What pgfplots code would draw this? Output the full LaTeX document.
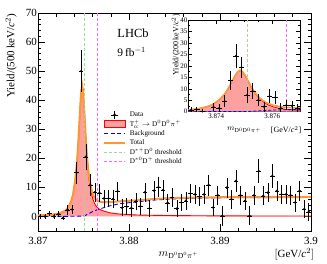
\documentclass[border=0pt]{standalone}
\usepackage{fontspec}
\setmainfont{Liberation Serif}
\usepackage{pgfplots}
\usepackage{pgfplotstable}
\pgfplotsset{compat=1.18}
\definecolor{sigfill}{RGB}{255,160,160}
\definecolor{totorange}{RGB}{255,150,50}
\definecolor{thrgreen}{RGB}{150,220,150}
\definecolor{thrmag}{RGB}{255,100,255}

\pgfplotstableread{
x y e
3.87025 0 0.7
3.87075 0 0.7
3.87125 1.0 1.0
3.87175 0 0.7
3.87225 0.9 1.0
3.87275 -0.5 0.8
3.87325 2.3 1.7
3.87375 2.4 1.6
3.87425 15.1 3.8
3.87475 50 7.3
3.87525 20.5 4.6
3.87575 10.8 3.9
3.87625 8.3 3.2
3.87675 8.1 3.2
3.87725 6.2 3.0
3.87775 6.2 3.0
3.87825 6.0 3.0
3.87875 8.7 3.3
3.87925 3.0 3.0
3.87975 3.4 3.0
3.88025 2.9 3.0
3.88075 5.1 3.0
3.88125 3.5 3.0
3.88175 8.3 3.3
3.88225 2.8 3.0
3.88275 8.9 3.4
3.88325 10.1 3.5
3.88375 9.1 3.4
3.88425 4.7 3.0
3.88475 6.5 3.2
3.88525 2.7 3.0
3.88575 4.8 3.0
3.88625 5.4 3.1
3.88675 7.9 3.3
3.88725 7.6 3.3
3.88775 6.8 3.2
3.88825 7.6 3.3
3.88875 10.8 3.6
3.88925 3.1 3.0
3.88975 7.3 3.3
3.89025 0.2 3.4
3.89075 9.9 3.5
3.89125 5.9 3.2
3.89175 12.2 3.7
3.89225 7.3 3.3
3.89275 5.4 3.1
3.89325 0.2 3.3
3.89375 7.3 3.3
3.89425 15.6 4.2
3.89475 7.1 3.3
3.89525 8.2 3.3
3.89575 13.9 4.0
3.89625 8.8 3.4
3.89675 7.6 3.3
3.89725 7.6 3.3
3.89775 7.3 3.3
3.89825 4.8 3.1
3.89875 8.8 3.4
3.89925 2.5 3.0
3.89975 1.6 3.0
}\maindata

\pgfplotstableread{
x S B T
3.87000 0.35 0.00 0.35
3.87140 0.55 0.02 0.57
3.87235 1.00 0.03 1.03
3.87305 2.00 0.04 2.04
3.87335 3.20 0.05 3.25
3.87365 5.20 0.06 5.26
3.87385 7.50 0.07 7.57
3.87405 11.5 0.08 11.58
3.87415 14.2 0.08 14.28
3.87425 17.4 0.09 17.49
3.87435 21.4 0.09 21.49
3.87445 26.4 0.10 26.50
3.87455 32.2 0.10 32.30
3.87465 38.2 0.11 38.31
3.87475 43.0 0.12 43.12
3.87485 45.0 0.13 45.13
3.87495 43.1 0.15 43.25
3.87505 38.3 0.18 38.48
3.87515 32.4 0.30 32.70
3.87525 26.6 0.45 27.05
3.87535 21.6 0.63 22.23
3.87545 17.6 0.80 18.40
3.87555 14.4 0.98 15.38
3.87565 11.9 1.12 13.02
3.87585 8.2 1.42 9.62
3.87605 5.8 1.72 7.52
3.87625 4.2 1.98 6.18
3.87651 3.1 2.30 5.40
3.87670 2.6 2.50 5.10
3.87710 2.0 2.90 4.90
3.87790 1.25 3.65 4.90
3.87890 0.85 4.35 5.20
3.88090 0.50 5.05 5.55
3.88300 0.38 5.70 6.08
3.88500 0.30 6.05 6.35
3.88750 0.25 6.30 6.55
3.89000 0.20 6.42 6.62
3.89500 0.17 6.50 6.67
3.90000 0.15 6.55 6.70
}\maincurves

\pgfplotstableread{
x y e
3.8731 0.8 1.2
3.8733 0.9 1.2
3.8735 0.1 1.0
3.8739 2.1 1.8
3.8741 1.6 1.7
3.8743 4.6 2.5
3.8745 13.7 4.2
3.8747 24.3 5.4
3.8749 19.4 4.6
3.8751 7.2 3.5
3.8753 9.0 3.5
3.8755 5.1 2.8
3.8757 2.2 2.2
3.8759 6.8 3.0
3.8761 6.2 3.0
3.8763 1.7 2.0
3.8765 2.9 2.2
3.8767 2.6 2.2
3.8769 1.4 1.8
}\insetdata

\pgfplotstableread{
x S B T
3.87300 0.77 0.016 0.79
3.87305 0.80 0.016 0.82
3.87335 1.28 0.02 1.30
3.87365 2.08 0.024 2.10
3.87385 3.00 0.028 3.03
3.87405 4.60 0.032 4.63
3.87415 5.68 0.032 5.71
3.87425 6.96 0.036 7.00
3.87435 8.56 0.036 8.60
3.87445 10.56 0.04 10.60
3.87455 12.88 0.04 12.92
3.87465 15.28 0.044 15.32
3.87475 17.20 0.048 17.25
3.87485 18.00 0.052 18.05
3.87495 17.24 0.06 17.30
3.87505 15.32 0.072 15.39
3.87515 12.96 0.12 13.08
3.87525 10.64 0.18 10.82
3.87535 8.64 0.25 8.89
3.87545 7.04 0.32 7.36
3.87555 5.60 0.39 5.99
3.87565 4.50 0.45 4.95
3.87585 3.00 0.57 3.57
3.87605 2.05 0.69 2.74
3.87625 1.45 0.79 2.24
3.87651 1.00 0.88 1.88
3.87670 0.80 0.93 1.73
3.87700 0.60 1.00 1.60
}\insetcurves

\begin{document}
\begin{tikzpicture}
\useasboundingbox (-38bp,-33bp) rectangle (289bp,231bp);
\begin{axis}[
  at={(0bp,0bp)}, anchor=south west,
  scale only axis, width=273bp, height=218bp,
  xmin=3.87, xmax=3.9, ymin=-5, ymax=70,
  xtick={3.87,3.88,3.89,3.9}, xticklabels={3.87,3.88,3.89,3.9},
  minor x tick num=4,
  ytick={0,10,...,70}, minor y tick num=4,
  tick align=inside, tick pos=both,
  major tick length=7bp, minor tick length=3.5bp,
  axis line style={line width=0.8pt},
  every tick/.style={black, line width=0.6pt},
  tick label style={font=\fontsize{11}{12}\selectfont},
  /pgf/number format/assume math mode=true,
  yticklabel style={inner sep=1bp},
  xticklabel style={yshift=-3bp},
  clip mode=individual,
  legend style={draw=none, fill=none, at={(axis description cs:0.238,0.555)}, anchor=north west,
    font=\fontsize{7.2}{8}\selectfont, inner sep=0pt, row sep=0pt,
    nodes={inner sep=0.6pt, text height=6pt, text depth=2.2pt},
    /tikz/every odd column/.append style={column sep=3bp}},
  legend cell align=left,
]
\addlegendimage{legend image code/.code={
  \draw[black, line width=0.5pt] (10.5bp,-4bp) -- (10.5bp,4bp);
  \draw[black, line width=0.5pt] (7bp,0bp) -- (14bp,0bp);
  \fill[black] (10.5bp,0bp) circle (1.1bp);}}
\addlegendentry{Data}
\addlegendimage{legend image code/.code={\draw[draw=red, fill=sigfill, line width=0.8pt] (0bp,-3.5bp) rectangle (21bp,3.5bp);}}
\addlegendentry{$\mathrm{T}_{\mathrm{cc}}^{+}\rightarrow\mathrm{D}^0\mathrm{D}^0\pi^+$}
\addlegendimage{legend image code/.code={\draw[blue, line width=1pt, dash pattern=on 4bp off 2.5bp] (0bp,0bp) -- (21bp,0bp);}}
\addlegendentry{Background}
\addlegendimage{legend image code/.code={\draw[totorange, line width=2pt] (0bp,0bp) -- (21bp,0bp);}}
\addlegendentry{Total}
\addlegendimage{legend image code/.code={\draw[thrgreen, line width=0.7pt, dash pattern=on 3bp off 2bp] (0bp,0bp) -- (21bp,0bp);}}
\addlegendentry{$\mathrm{D}^{*+}\mathrm{D}^0$ threshold}
\addlegendimage{legend image code/.code={\draw[thrmag, line width=0.9pt, dash pattern=on 3bp off 2bp] (0bp,0bp) -- (21bp,0bp);}}
\addlegendentry{$\mathrm{D}^{*0}\mathrm{D}^+$ threshold}

\addplot[fill=sigfill, draw=none, forget plot] table[x=x, y=S]{\maincurves} \closedcycle;
\addplot[red, line width=0.9pt, forget plot] table[x=x, y=S]{\maincurves};
\addplot[blue, line width=0.9pt, dash pattern=on 4bp off 2.5bp, forget plot] table[x=x, y=B]{\maincurves};
\addplot[totorange, line width=2pt, forget plot] table[x=x, y=T]{\maincurves};
\addplot[thrgreen, line width=0.7pt, dash pattern=on 3bp off 2bp, forget plot] coordinates {(3.8751,-5) (3.8751,70)};
\addplot[thrmag, line width=1.1pt, dash pattern=on 3bp off 2bp, forget plot] coordinates {(3.87651,-5) (3.87651,70)};
\addplot[black, only marks, mark=*, mark size=1pt, forget plot,
  error bars/.cd, y dir=both, y explicit, x dir=both, x fixed=0.00025,
  error bar style={line width=0.5pt, black}, error mark=none]
  table[x=x, y=y, y error=e]{\maindata};

\node[anchor=west, font=\fontsize{12.5}{13}\selectfont] at (axis description cs:0.278,0.905) {LHCb};
\node[anchor=west, font=\fontsize{11.5}{12}\selectfont] at (axis description cs:0.278,0.82) {9\,fb$^{-1}$};
\node[rotate=90, anchor=south east, font=\fontsize{11}{12}\selectfont, inner sep=0pt] at ([xshift=-21bp,yshift=-1bp]axis description cs:0,1) {Yield/(500\,keV/\textit{c}$^2$)};
\node[font=\fontsize{11}{12}\selectfont] at (axis description cs:0.515,-0.11) {$m_{\mathrm{D}^0\mathrm{D}^0\pi^+}$};
\node[anchor=east, font=\fontsize{11}{12}\selectfont, inner sep=0pt] at (axis description cs:1.012,-0.105) {$\big[$GeV/\textit{c}$^2\big]$};
\end{axis}

\begin{axis}[
  at={(150.3bp,119.3bp)}, anchor=south west,
  scale only axis, width=112bp, height=91.7bp,
  axis background/.style={fill=white},
  xmin=3.873, xmax=3.877, ymin=0, ymax=40,
  xtick={3.874,3.876}, xticklabels={3.874,3.876},
  minor x tick num=3,
  ytick={0,5,...,40}, minor y tick num=1,
  tick align=inside, tick pos=both,
  major tick length=4bp, minor tick length=2bp,
  axis line style={line width=0.6pt},
  every tick/.style={black, line width=0.5pt},
  tick label style={font=\fontsize{7}{8}\selectfont},
  /pgf/number format/assume math mode=true,
  yticklabel style={inner sep=0.8bp},
  xticklabel style={inner sep=1.5bp},
  clip mode=individual,
]
\addplot[fill=sigfill, draw=none] table[x=x, y=S]{\insetcurves} \closedcycle;
\addplot[red, line width=0.8pt] table[x=x, y=S]{\insetcurves};
\addplot[blue, line width=0.8pt, dash pattern=on 3bp off 2bp] table[x=x, y=B]{\insetcurves};
\addplot[totorange, line width=1.6pt] table[x=x, y=T]{\insetcurves};
\addplot[thrgreen, line width=0.6pt, dash pattern=on 3bp off 2bp] coordinates {(3.8751,0) (3.8751,40)};
\addplot[thrmag, line width=0.9pt, dash pattern=on 3bp off 2bp] coordinates {(3.87651,0) (3.87651,40)};
\addplot[black, only marks, mark=*, mark size=0.8pt,
  error bars/.cd, y dir=both, y explicit, x dir=both, x fixed=0.0001,
  error bar style={line width=0.5pt, black}, error mark=none]
  table[x=x, y=y, y error=e]{\insetdata};
\node[rotate=90, anchor=south east, font=\fontsize{8}{9}\selectfont, inner sep=0pt] at ([xshift=-8bp,yshift=6bp]axis description cs:0,1) {Yield/(200\,keV/\textit{c}$^2$)};
\node[font=\fontsize{8}{9}\selectfont] at (axis description cs:0.5,-0.2) {$m_{\mathrm{D}^0\mathrm{D}^0\pi^+}$};
\node[anchor=east, font=\fontsize{8}{9}\selectfont, inner sep=0pt] at (axis description cs:1.01,-0.2) {[GeV/\textit{c}$^2$]};
\end{axis}
\end{tikzpicture}
\end{document}
